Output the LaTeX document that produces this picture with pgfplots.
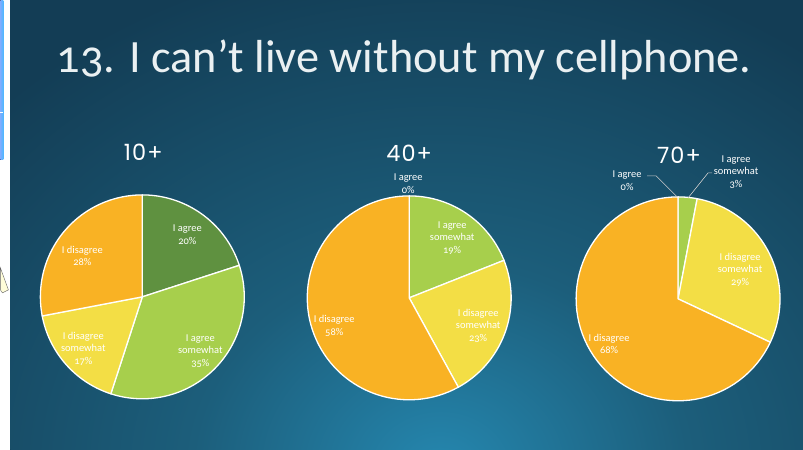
\documentclass[border=0pt]{standalone}
\usepackage{pgfplots}
\pgfplotsset{compat=1.18}
\usepackage{fontspec}
\setmainfont{Carlito}[Numbers=OldStyle]
\newfontfamily\agefont{Poppins}[LetterSpace=5]
\definecolor{cAgree}{HTML}{5F9140}
\definecolor{cAgreeS}{HTML}{A7CF4C}
\definecolor{cDisS}{HTML}{F3DE45}
\definecolor{cDis}{HTML}{F9B224}
\definecolor{bgin}{HTML}{2587AF}
\definecolor{bgmid}{HTML}{1C5E7B}
\definecolor{bgout}{HTML}{133D55}
\definecolor{titlec}{HTML}{EAF0F2}
\pgfdeclareradialshading{bgshade}{\pgfpoint{0bp}{0bp}}{color(0bp)=(bgin); color(10bp)=(bgmid); color(25bp)=(bgout); color(50bp)=(bgout)}
% #1 cx, #2 cy, #3 radius, #4 start %, #5 end %, #6 colour
\newcommand\slice[6]{%
  \addplot[fill=#6, draw=white, line width=1.3bp, line join=round, domain=3.6*#4:3.6*#5, samples=72, variable=\t, forget plot]
    ({#1+#3*sin(\t)},{#2-#3*cos(\t)}) -- (axis cs:#1,#2) -- cycle;}
\newcommand\lab[3]{\node[align=center, inner sep=0pt, text=white, font=\fontsize{10.5}{12.6}\selectfont] at (axis cs:#1,#2) {#3};}
\begin{document}
\begin{tikzpicture}
\begin{axis}[width=803bp, height=450bp, scale only axis, xmin=0, xmax=803, ymin=0, ymax=450,
  y dir=reverse, hide axis, clip=false]
% slide background
\fill[white] (axis cs:0,0) rectangle (axis cs:803,450);
\fill[bgout] (axis cs:10,0) rectangle (axis cs:803,450);
\begin{scope}
\clip (axis cs:10,0) rectangle (axis cs:803,450);
\shade[shading=bgshade] (axis cs:440,470) ellipse [x radius=620bp, y radius=520bp];
\end{scope}
% remnants at the left edge
\fill[left color=white!60!blue!80!cyan, right color=blue!40!cyan!70!white] (axis cs:0,0) rectangle (axis cs:3,160);
\draw[white, line width=0.8bp] (axis cs:0,112) -- (axis cs:3,112);
\filldraw[fill=yellow!15, draw=black!60, line width=0.4bp] (axis cs:0,268) -- (axis cs:8,290) -- (axis cs:2,293) -- (axis cs:0,290) -- cycle;
% title
\node[anchor=base, text=titlec, inner sep=0pt, font=\fontsize{46.5}{50}\selectfont] at (axis cs:404,73) {13. I can’t live without my cellphone.};
% pie titles
\node[anchor=base, text=white, inner sep=0pt, font=\agefont\fontsize{22.5}{24}\selectfont] at (axis cs:143,161) {10+};
\node[anchor=base, text=white, inner sep=0pt, font=\agefont\fontsize{22.5}{24}\selectfont] at (axis cs:409,162) {40+};
\node[anchor=base, text=white, inner sep=0pt, font=\agefont\fontsize{22.5}{24}\selectfont] at (axis cs:679,164) {70+};
% 10+ : I agree 20, I agree somewhat 35, I disagree somewhat 17, I disagree 28
\slice{142}{297}{102}{0}{20}{cAgree}
\slice{142}{297}{102}{20}{55}{cAgreeS}
\slice{142}{297}{102}{55}{72}{cDisS}
\slice{142}{297}{102}{72}{100}{cDis}
% 40+ : I agree 0, I agree somewhat 19, I disagree somewhat 23, I disagree 58
\slice{409}{298}{102}{0}{19}{cAgreeS}
\slice{409}{298}{102}{19}{42}{cDisS}
\slice{409}{298}{102}{42}{100}{cDis}
% 70+ : I agree 0, I agree somewhat 3, I disagree somewhat 29, I disagree 68
\slice{678}{299}{102}{0}{3}{cAgreeS}
\slice{678}{299}{102}{3}{32}{cDisS}
\slice{678}{299}{102}{32}{100}{cDis}
% labels 10+
\lab{187}{235}{I agree\\20\%}
\lab{200}{351}{I agree\\somewhat\\35\%}
\lab{83}{349}{I disagree\\somewhat\\17\%}
\lab{82}{256}{I disagree\\28\%}
% labels 40+
\lab{408}{184}{I agree\\0\%}
\lab{452}{238}{I agree\\somewhat\\19\%}
\lab{478}{326}{I disagree\\somewhat\\23\%}
\lab{334}{326}{I disagree\\58\%}
% labels 70+
\lab{627}{181}{I agree\\0\%}
\lab{736}{172}{I agree\\somewhat\\3\%}
\lab{740}{270}{I disagree\\somewhat\\29\%}
\lab{609}{344}{I disagree\\68\%}
\draw[black!20, line width=0.6bp] (axis cs:647,176) -- (axis cs:656,176) -- (axis cs:677,197);
\draw[black!20, line width=0.6bp] (axis cs:712,173) -- (axis cs:708,173) -- (axis cs:688,198);
\end{axis}
\end{tikzpicture}
\end{document}
